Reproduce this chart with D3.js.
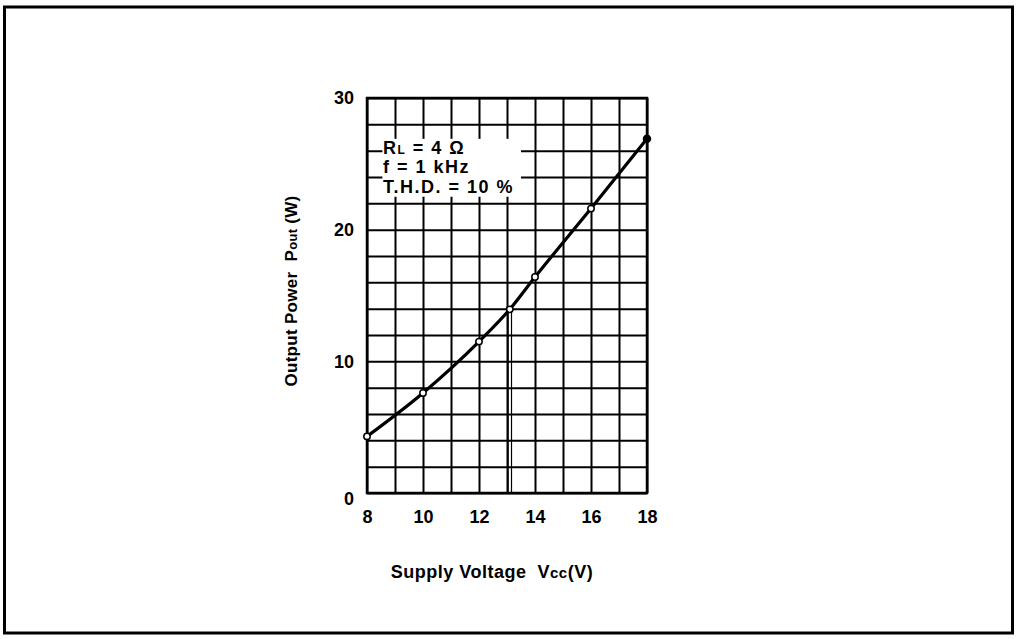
<!DOCTYPE html>
<html>
<head>
<meta charset="utf-8">
<script src="https://cdn.jsdelivr.net/npm/d3@7"></script>
<style>
  body { margin: 0; background: #fff; }
  svg { display: block; font-family: "Liberation Sans", Arial, sans-serif; }
  text { white-space: pre; }
</style>
</head>
<body>
<script>
// Chart data
const voltage = [8, 10, 12, 13.1, 14, 16, 18];
const power = [4.3, 7.6, 11.5, 13.95, 16.4, 21.6, 26.9];
const xTicks = [8, 10, 12, 14, 16, 18];
const yTicks = [0, 10, 20, 30];
const conditions = ["RL = 4 Ω", "f = 1 kHz", "T.H.D. = 10 %"];
const markedVoltage = 13.1;

const width = 1017;
const height = 639;
const plot = { left: 367, right: 647, top: 98, bottom: 493 };

const svg = d3.select("body").append("svg")
  .attr("width", width)
  .attr("height", height);

// outer frame
svg.append("rect")
  .attr("x", 4.5).attr("y", 7)
  .attr("width", 1008).attr("height", 626)
  .attr("fill", "none")
  .attr("stroke", "#000")
  .attr("stroke-width", 3);

const x = d3.scaleLinear().domain([8, 18]).range([plot.left, plot.right]);
const y = d3.scaleLinear().domain([0, 30]).range([plot.bottom, plot.top]);

// grid
svg.append("g")
  .attr("transform", `translate(0,${plot.bottom})`)
  .call(d3.axisBottom(x).tickValues(d3.range(8, 19, 1)).tickSize(-(plot.bottom - plot.top)).tickFormat(""))
  .call(g => g.select(".domain").remove())
  .call(g => g.selectAll("line").attr("stroke", "#000").attr("stroke-width", 2));

svg.append("g")
  .attr("transform", `translate(${plot.left},0)`)
  .call(d3.axisLeft(y).tickValues(d3.range(0, 31, 2)).tickSize(-(plot.right - plot.left)).tickFormat(""))
  .call(g => g.select(".domain").remove())
  .call(g => g.selectAll("line").attr("stroke", "#000").attr("stroke-width", 2));

svg.append("rect")
  .attr("x", plot.left).attr("y", plot.top)
  .attr("width", plot.right - plot.left)
  .attr("height", plot.bottom - plot.top)
  .attr("fill", "none")
  .attr("stroke", "#000")
  .attr("stroke-width", 2.5);

// tick labels
svg.append("g")
  .attr("transform", `translate(0,${plot.bottom})`)
  .call(d3.axisBottom(x).tickValues(xTicks).tickSize(0).tickPadding(17))
  .call(g => g.select(".domain").remove())
  .call(g => g.selectAll("text")
    .attr("fill", "#000")
    .style("font-family", "Liberation Sans, Arial, sans-serif")
    .style("font-size", "18px")
    .style("font-weight", "bold"));

svg.append("g")
  .attr("transform", `translate(${plot.left},0)`)
  .call(d3.axisLeft(y).tickValues(yTicks).tickSize(0).tickPadding(13))
  .call(g => g.select(".domain").remove())
  .call(g => g.selectAll("text")
    .attr("fill", "#000")
    .attr("dy", d => d === 0 ? "0.65em" : "0.32em")
    .style("font-family", "Liberation Sans, Arial, sans-serif")
    .style("font-size", "18px")
    .style("font-weight", "bold"));

// condition box
svg.append("rect")
  .attr("x", x(8.55)).attr("y", y(26.9))
  .attr("width", x(13.5) - x(8.55))
  .attr("height", y(22.5) - y(26.9))
  .attr("fill", "#fff");

const cond = svg.append("text")
  .attr("x", x(8.57))
  .attr("y", y(25.75))
  .style("font-size", "18px")
  .style("font-weight", "bold")
  .style("letter-spacing", "1.5px");

conditions.forEach((line, i) => {
  const t = cond.append("tspan").attr("x", x(8.57)).attr("dy", i === 0 ? 0 : 19.5);
  if (line.startsWith("RL")) {
    t.text("R");
    t.append("tspan").style("font-size", "12px").text("L");
    t.append("tspan").text(line.slice(2));
  } else {
    t.text(line);
  }
});

// marker line at 13.1 V
const markIdx = voltage.indexOf(markedVoltage);
[-1.7, 1.7].forEach(off => {
  svg.append("line")
    .attr("x1", x(markedVoltage) + off).attr("x2", x(markedVoltage) + off)
    .attr("y1", y(power[markIdx])).attr("y2", y(0))
    .attr("stroke", "#000")
    .attr("stroke-width", 1.2);
});

// curve
const pts = voltage.map((v, i) => [v, power[i]]);
svg.append("path")
  .datum(pts)
  .attr("fill", "none")
  .attr("stroke", "#000")
  .attr("stroke-width", 3.2)
  .attr("d", d3.line().x(d => x(d[0])).y(d => y(d[1])).curve(d3.curveMonotoneX));

svg.selectAll(".pt")
  .data(pts)
  .enter()
  .append("circle")
  .attr("class", "pt")
  .attr("cx", d => x(d[0]))
  .attr("cy", d => y(d[1]))
  .attr("r", (d, i) => i === pts.length - 1 ? 3.5 : 3.2)
  .attr("fill", (d, i) => i === pts.length - 1 ? "#000" : "#fff")
  .attr("stroke", "#000")
  .attr("stroke-width", 1.5);

// axis titles
const xt = svg.append("text")
  .attr("x", 492).attr("y", 578)
  .attr("text-anchor", "middle")
  .style("font-size", "18px")
  .style("font-weight", "bold")
  .style("letter-spacing", "0.5px")
  .text("Supply Voltage  V");
xt.append("tspan").style("font-size", "15px").text("cc");
xt.append("tspan").text("(V)");

const yt = svg.append("text")
  .attr("transform", "translate(297,291) rotate(-90)")
  .attr("text-anchor", "middle")
  .style("font-size", "17px")
  .style("font-weight", "bold")
  .style("letter-spacing", "0.3px")
  .text("Output Power  P");
yt.append("tspan").style("font-size", "13px").text("out");
yt.append("tspan").text(" (W)");
</script>
</body>
</html>
